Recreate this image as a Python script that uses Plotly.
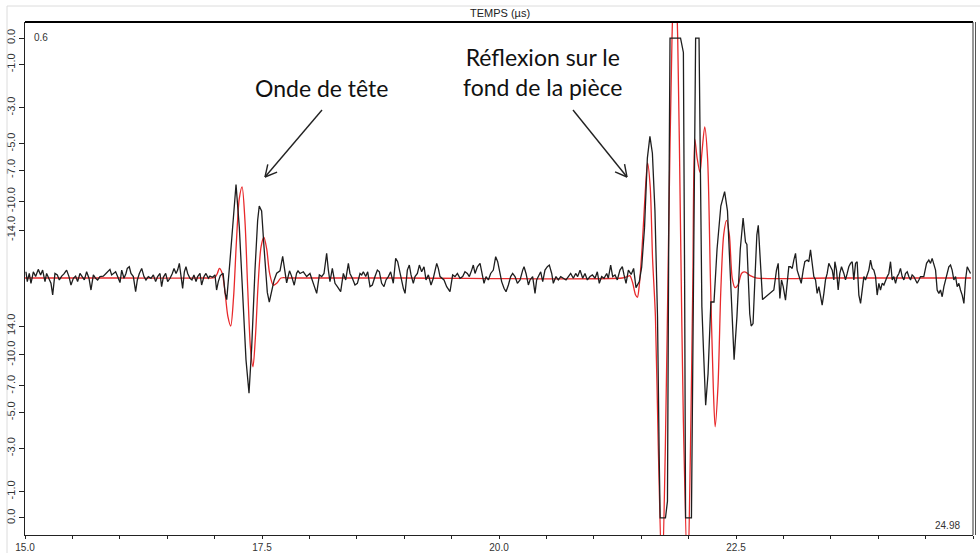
import math
import plotly.graph_objects as go

# ---------------- data ----------------
# black : measured signal (time in µs, normalised amplitude)
BLACK_T = [
15.010,15.024,15.045,15.063,15.088,15.112,15.140,15.165,15.186,15.211,15.228,15.253,15.274,15.292,15.316,15.341,
15.362,15.387,15.411,15.439,15.464,15.485,15.510,15.534,15.555,15.580,15.605,15.626,15.650,15.675,15.696,15.721,
15.745,15.766,15.791,15.826,15.854,15.872,15.896,15.914,15.931,15.956,15.977,16.002,16.020,16.044,16.065,16.079,
16.100,16.118,16.143,16.167,16.185,16.206,16.231,16.255,16.276,16.301,16.329,16.354,16.378,16.399,16.424,16.441,
16.459,16.484,16.505,16.530,16.554,16.572,16.593,16.610,16.628,16.645,16.663,16.681,16.698,16.716,16.740,16.761,
16.782,16.804,16.821,16.846,16.863,16.888,16.909,16.934,16.951,16.979,17.004,17.021,17.039,
17.060,17.090,17.110,17.128,17.163,17.194,17.226,17.261,17.296,17.331,17.363,17.391,17.426,17.454,17.471,17.496,
17.521,17.556,17.577,17.602,17.627,17.655,17.690,17.718,17.740,17.760,17.790,17.810,17.840,17.865,17.880,
17.901,17.936,17.971,18.006,18.042,18.077,18.105,18.130,18.154,18.182,18.200,18.217,18.242,18.270,18.295,18.330,
18.358,18.383,18.411,18.428,18.453,18.481,18.506,18.534,18.552,18.569,18.594,18.615,18.639,18.664,18.692,18.717,
18.738,18.762,18.787,18.808,18.833,18.857,18.885,18.910,18.931,18.956,18.973,18.991,19.009,19.033,19.054,19.072,
19.096,19.114,19.139,19.160,19.184,19.209,19.230,19.255,19.283,19.307,19.343,19.360,19.378,19.395,19.420,19.448,
19.483,19.511,19.536,19.561,19.589,19.617,19.641,19.666,19.687,19.712,19.729,19.747,19.772,19.800,19.824,19.842,
19.863,19.888,19.912,19.940,19.965,19.986,20.011,20.028,20.053,20.074,20.099,20.123,20.144,20.169,20.194,20.222,
20.250,20.264,20.285,20.310,20.327,20.355,20.380,20.397,20.415,20.440,20.461,20.485,20.510,20.531,20.556,20.573,
20.601,20.626,20.651,20.679,20.707,20.732,20.756,20.784,20.809,20.830,20.855,20.883,20.907,20.932,20.960,20.985,
21.013,21.037,21.058,21.083,21.108,21.136,21.153,21.178,21.199,21.224,21.248,21.276,21.301,21.319,21.340,21.365,
21.394,21.420,21.445,21.480,21.505,21.535,21.565,21.592,21.618,21.645,21.672,21.690,21.700,21.756,21.777,21.790,
21.804,21.915,21.945,21.958,21.968,22.030,22.050,22.074,22.110,22.122,22.140,22.158,22.180,22.205,22.235,22.268,
22.300,22.340,22.380,22.410,22.445,22.480,22.510,22.545,22.575,22.600,22.615,22.645,22.660,22.680,22.700,22.720,
22.735,22.760,22.780,
22.899,22.927,22.945,22.963,22.980,22.998,23.022,23.040,23.057,23.075,23.093,23.110,23.128,23.145,23.163,23.188,
23.209,23.226,23.251,23.268,23.286,23.304,23.321,23.339,23.356,23.374,23.392,23.409,23.427,23.444,23.462,23.479,
23.497,23.515,23.532,23.543,23.560,23.578,23.595,23.613,23.638,23.655,23.673,23.690,23.708,23.726,23.743,23.761,
23.778,23.796,23.814,23.831,23.849,23.866,23.884,23.901,23.919,23.937,23.954,23.972,23.989,24.007,24.024,24.042,
24.060,24.077,24.095,24.112,24.130,24.148,24.165,24.183,24.200,24.218,24.235,24.253,24.271,24.288,24.306,24.323,
24.341,24.358,24.376,24.394,24.411,24.429,24.446,24.481,24.510,24.534,24.552,24.569,24.587,24.605,24.622,24.640,
24.657,24.675,24.693,24.710,24.728,24.745,24.763,24.780,24.798,24.816,24.833,24.851,24.868,24.886,24.904,24.921,
24.939,24.956,24.974]
BLACK_A = [
0.026,-0.015,0.019,-0.022,0.026,0.006,0.036,0.013,0.033,-0.015,0.019,-0.001,-0.022,-0.070,0.019,0.013,
-0.008,0.008,0.017,0.033,0.006,-0.029,-0.001,0.008,-0.015,0.019,0.006,-0.008,0.026,-0.001,-0.050,0.013,
-0.001,-0.008,0.006,0.008,0.019,0.026,0.036,0.013,0.019,0.026,0.006,-0.019,0.033,-0.001,0.019,0.040,
0.047,0.019,0.006,-0.057,-0.008,0.019,0.040,0.006,-0.008,0.006,-0.001,0.013,-0.015,0.006,0.019,-0.036,
0.003,0.019,-0.015,-0.001,0.019,0.040,0.019,0.033,0.061,0.019,-0.043,0.026,0.047,0.019,-0.001,-0.008,
0.013,-0.015,0.006,0.019,-0.029,0.006,0.019,-0.001,0.008,0.003,0.013,-0.050,-0.015,
0.010,0.020,-0.060,-0.090,0.075,0.250,0.390,0.210,-0.060,-0.340,-0.480,-0.290,0.033,0.240,0.300,0.280,
0.130,-0.060,-0.100,-0.060,-0.010,0.020,0.030,0.090,0.040,-0.020,0.030,0.010,-0.030,0.020,0.030,
0.019,0.026,0.006,0.019,-0.022,-0.064,0.013,0.006,0.019,0.103,0.033,-0.015,0.040,-0.022,-0.036,-0.057,
0.019,-0.008,0.061,0.019,-0.001,-0.029,-0.022,0.019,0.013,0.026,0.006,0.026,-0.036,-0.029,0.006,0.033,
0.026,-0.022,-0.036,-0.008,0.006,0.026,-0.022,0.082,0.068,0.019,-0.022,-0.043,-0.064,0.033,0.054,0.013,
-0.022,0.006,0.019,0.054,0.026,0.047,-0.008,0.013,-0.029,-0.001,0.061,0.040,0.006,-0.001,-0.008,-0.036,
-0.057,0.013,0.006,0.019,-0.001,0.006,0.026,0.019,0.006,0.033,0.054,0.019,0.047,0.061,0.019,-0.022,
0.006,-0.008,0.019,0.033,0.089,0.068,0.019,-0.015,-0.043,-0.057,-0.029,0.006,0.019,0.006,-0.022,-0.008,
0.033,0.047,0.019,-0.029,-0.008,0.006,-0.064,-0.008,0.006,0.026,-0.015,0.033,0.047,0.054,0.019,-0.022,
0.006,-0.008,0.006,-0.001,-0.008,0.006,0.019,-0.001,0.019,0.006,0.033,-0.001,0.019,-0.008,0.006,0.013,
-0.001,0.026,-0.022,0.006,-0.001,0.019,-0.001,0.054,0.006,0.013,-0.008,0.033,0.047,0.013,-0.022,0.033,
0.015,0.040,-0.040,-0.015,0.045,0.210,0.500,0.590,0.520,0.280,-0.160,-0.750,-1.000,-1.000,-0.930,0.130,
1.000,1.000,0.940,-0.015,-1.000,-1.000,-0.160,1.000,1.000,0.430,-0.120,-0.310,-0.530,-0.400,-0.100,-0.100,
0.120,0.300,0.360,0.280,-0.050,-0.340,-0.160,0.120,0.250,0.150,0.140,-0.150,-0.200,-0.190,0.000,0.180,
0.220,0.060,-0.090,
-0.050,0.033,0.061,-0.085,-0.008,-0.036,-0.092,-0.008,0.047,0.047,0.040,0.075,0.103,0.033,0.006,-0.022,
0.033,0.068,0.075,0.068,0.117,0.061,0.006,-0.008,-0.064,-0.036,-0.078,-0.113,-0.064,-0.008,0.019,0.061,
0.047,0.033,-0.008,0.068,0.033,-0.050,0.019,0.047,0.019,-0.008,0.019,0.047,0.061,0.068,-0.008,0.061,
0.068,-0.071,-0.106,-0.050,0.006,-0.008,0.019,0.033,0.075,0.040,0.033,0.006,-0.071,-0.022,-0.050,-0.022,
-0.029,-0.008,0.006,0.019,0.068,-0.008,0.006,-0.022,0.006,0.019,0.040,0.006,-0.008,0.019,0.026,0.006,
-0.008,0.013,0.006,-0.008,-0.022,-0.008,0.006,0.006,0.061,0.075,0.061,0.082,0.061,0.033,-0.050,-0.064,
-0.050,-0.078,-0.036,-0.008,0.019,0.047,0.054,0.033,-0.008,0.006,-0.036,-0.022,-0.050,-0.071,-0.106,-0.008,
0.047,0.033,0.019]

# red : simulated signal
RED_T = [15.00, 16.00, 16.90, 17.00, 17.03, 17.05, 17.08, 17.11, 17.14, 17.17, 17.20, 17.23, 17.26, 17.29, 17.32,
         17.35, 17.38, 17.405, 17.43, 17.46, 17.49, 17.52, 17.55, 17.58, 17.62, 17.66, 17.70, 17.80, 19.00,
         21.30, 21.35, 21.38, 21.41, 21.44, 21.46, 21.48, 21.51, 21.54, 21.567, 21.595, 21.62, 21.65, 21.68,
         21.72, 21.755, 21.79, 21.825, 21.855, 21.885, 21.915, 21.945, 21.99, 22.02, 22.045, 22.065, 22.09, 22.12,
         22.14, 22.17, 22.20, 22.23, 22.26, 22.28, 22.31, 22.34, 22.37, 22.40, 22.43, 22.46, 22.49, 22.52,
         22.56, 22.60, 22.65, 22.72, 23.50, 24.98]
RED_A = [0.0, 0.0, 0.0, 0.002, 0.02, 0.04, 0.02, -0.06, -0.16, -0.20, -0.08, 0.15, 0.33, 0.38, 0.24,
         -0.05, -0.30, -0.37, -0.25, -0.02, 0.13, 0.17, 0.12, 0.02, -0.03, -0.02, 0.0, 0.0, 0.0,
         0.0, 0.005, 0.01, -0.02, -0.07, -0.08, -0.03, 0.13, 0.34, 0.48, 0.38, 0.08, -0.16, -0.70,
         -1.25, -0.70, 0.20, 1.00, 1.35, 1.00, 0.20, -0.60, -1.25, -0.70, 0.0, 0.58, 0.50, 0.44,
         0.52, 0.63, 0.50, 0.0, -0.45, -0.62, -0.45, -0.05, 0.18, 0.24, 0.18, 0.0, -0.04, -0.03,
         0.02, 0.025, 0.01, 0.0, 0.0, 0.0]

X_TICKS = [15.0, 17.5, 20.0, 22.5, 25.0]
X_TICK_TEXT = ["15.0", "17.5", "20.0", "22.5", "25.0"]
Y_TICKS = [1.0, 0.89, 0.71, 0.56, 0.45, 0.32, 0.2, -0.2, -0.32, -0.45, -0.56, -0.71, -0.89, -1.0]
Y_TICK_TEXT = ["0.0", "-1.0", "-3.0", "-5.0", "-7.0", "-10.0", "-14.0",
               "14.0", "-10.0", "-7.0", "-5.0", "-3.0", "-1.0", "0.0"]

# ---------------- figure ----------------
W, H = 980, 553
ML, MR, MT, MB = 25, 7, 22, 18
PW, PH = W - ML - MR, H - MT - MB

def px(x):   # pixel -> paper x
    return (x - ML) / PW

def py(y):   # pixel -> paper y
    return (H - MB - y) / PH

fig = go.Figure()
fig.add_trace(go.Scatter(x=RED_T, y=RED_A, mode="lines",
                         line=dict(color="#e8292b", width=1.3, shape="spline", smoothing=0.8),
                         hoverinfo="skip", showlegend=False))
fig.add_trace(go.Scatter(x=BLACK_T, y=BLACK_A, mode="lines",
                         line=dict(color="#1e1e1e", width=1.3),
                         hoverinfo="skip", showlegend=False))

shapes = []
shapes.append(dict(type="line", xref="paper", yref="paper", x0=0, x1=1, y0=1, y1=1,
                   line=dict(color="black", width=2)))
shapes.append(dict(type="line", xref="paper", yref="paper", x0=1, x1=1, y0=0, y1=1,
                   line=dict(color="#333", width=1)))
shapes.append(dict(type="line", xref="paper", yref="paper", x0=px(975.5), x1=px(975.5), y0=0, y1=1,
                   line=dict(color="#555", width=1)))
shapes.append(dict(type="line", xref="paper", yref="paper", x0=px(7), x1=px(990), y0=py(6), y1=py(6),
                   line=dict(color="#dcdcdc", width=1)))
shapes.append(dict(type="line", xref="paper", yref="paper", x0=px(7), x1=px(7), y0=py(6), y1=py(560),
                   line=dict(color="#dcdcdc", width=1)))

def arrow(x0, y0, x1, y1, head=13):
    """arrow from (x0,y0) to tip (x1,y1) in pixels, open V head"""
    out = [dict(type="line", xref="paper", yref="paper", x0=px(x0), y0=py(y0), x1=px(x1), y1=py(y1),
                line=dict(color="#222", width=1.4))]
    dx, dy = x0 - x1, y0 - y1
    L = math.hypot(dx, dy)
    ux, uy = dx / L, dy / L
    for a in (math.radians(28), math.radians(-28)):
        rx = ux * math.cos(a) - uy * math.sin(a)
        ry = ux * math.sin(a) + uy * math.cos(a)
        out.append(dict(type="line", xref="paper", yref="paper", x0=px(x1), y0=py(y1),
                        x1=px(x1 + head * rx), y1=py(y1 + head * ry),
                        line=dict(color="#222", width=1.4)))
    return out

shapes += arrow(322, 110, 265, 177)
shapes += arrow(573, 110, 627, 177)

ann_font = dict(family="Lato, Noto Sans, sans-serif", size=23, color="#111")
small = dict(family="Liberation Sans, Arial, sans-serif", size=10, color="#333")

def note(text, x, y, font, xanchor="center"):
    return dict(text=text, xref="paper", yref="paper", x=px(x), y=py(y), xanchor=xanchor,
                yanchor="middle", showarrow=False, font=font, align="center")

annotations = [
    note("TEMPS (µs)", 500, 13, dict(family="Liberation Sans, Arial, sans-serif", size=11, color="#222")),
    note("Onde de tête", 321, 88, ann_font),
    note("Réflexion sur le<br>fond de la pièce", 542, 72, ann_font),
    note("0.6", 32, 37, small, "left"),
    note("24.98", 962, 525, small, "right"),
]

fig.update_layout(
    width=W, height=H, margin=dict(l=ML, r=MR, t=MT, b=MB, autoexpand=False),
    paper_bgcolor="white", plot_bgcolor="white",
    shapes=shapes, annotations=annotations,
    xaxis=dict(range=[15, 25], tickvals=X_TICKS, ticktext=X_TICK_TEXT, showgrid=False, zeroline=False,
               automargin=False,
               showline=True, linecolor="#222", linewidth=1, ticks="outside", ticklen=3, tickcolor="#222",
               minor=dict(dtick=0.5, tick0=15, ticks="outside", ticklen=3, tickcolor="#222", showgrid=False),
               tickfont=dict(family="Liberation Sans, Arial, sans-serif", size=10, color="#333")),
    yaxis=dict(range=[-1.071, 1.067], tickvals=Y_TICKS, ticktext=Y_TICK_TEXT, showgrid=False, zeroline=False,
               automargin=False,
               showline=True, linecolor="#222", linewidth=1, ticks="outside", ticklen=5, tickcolor="#222",
               tickangle=-90,
               tickfont=dict(family="Liberation Sans, Arial, sans-serif", size=11, color="#333")),
)

fig.write_html("out.html", config={"displayModeBar": False},
               post_script="document.body.style.margin='0';document.body.style.padding='0';"
                           "document.body.style.overflow='hidden';")
